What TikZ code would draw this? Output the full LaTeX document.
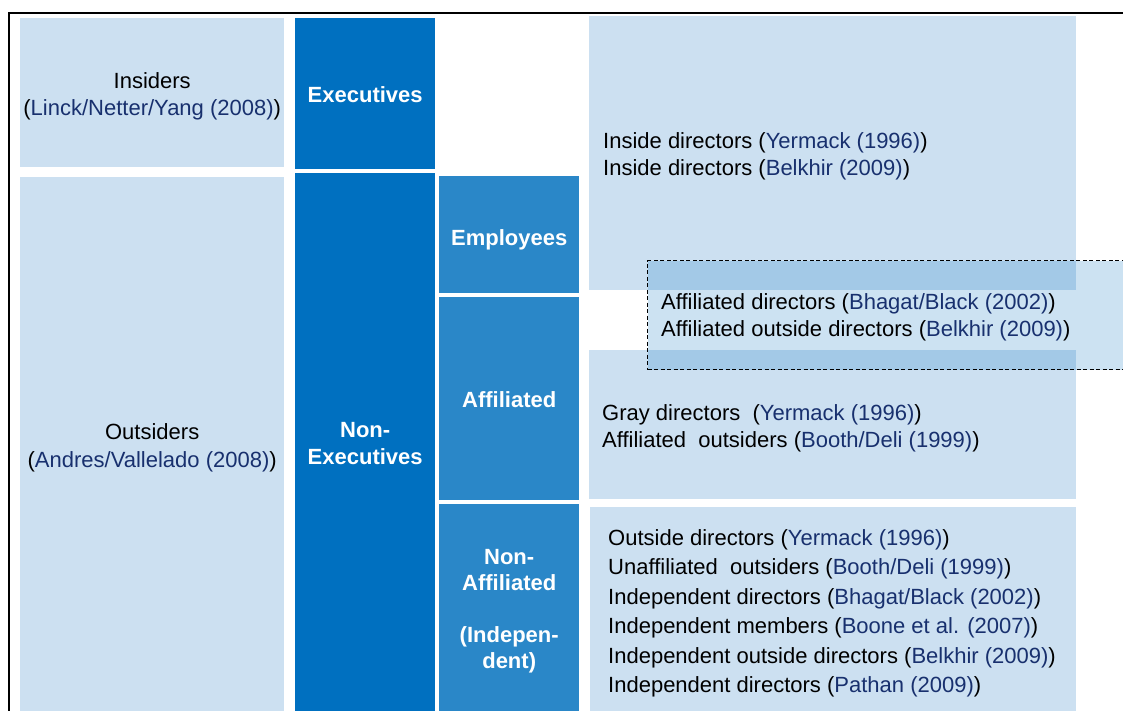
\documentclass[tikz,border=0pt]{standalone}
\usepackage{fontspec}
\setmainfont{Liberation Sans}
\definecolor{darkblue}{HTML}{0070C0}
\definecolor{midblue}{HTML}{2A87C8}
\definecolor{paleblue}{HTML}{CCE0F1}
\definecolor{citeblue}{HTML}{18306E}
\newcommand{\src}[1]{\textcolor{citeblue}{#1}}

\begin{document}
\begin{tikzpicture}[x=1pt,y=-1pt,
    every node/.style={font=\fontsize{22}{27}\selectfont, inner sep=0pt},
    cell/.style={anchor=north west},
    lite/.style={cell, fill=paleblue},
    dark/.style={cell, fill=darkblue},
    mid/.style={cell, fill=midblue},
    tag/.style={align=center},
    head/.style={align=center, text=white, font=\fontsize{22}{27}\selectfont\bfseries},
    list/.style={anchor=west, align=left},
    dashbox/.style={cell, draw=black, line width=1pt, dash pattern=on 4pt off 2.5pt,
      fill=darkblue, fill opacity=0.2}]
  \useasboundingbox (0,0) rectangle (1123,710);
  \clip (0,0) rectangle (1123,710);
  \draw[line width=2pt] (9,716) -- (9,13) -- (1126,13);

  % left column
  \node[lite, minimum width=264pt, minimum height=149pt] (insiders) at (20,18) {};
  \node[lite, minimum width=264pt, minimum height=537pt] (outsiders) at (20,177) {};
  \node[tag] (insiderstext) at ([yshift=-3.5pt]insiders.center)
    {Insiders\\(\src{Linck/Netter/Yang (2008)})};
  \node[tag, font=\fontsize{22}{28}\selectfont] (outsiderstext) at ([yshift=-2pt]outsiders.center)
    {Outsiders\\(\src{Andres/Vallelado (2008)})};

  % board members
  \node[dark, minimum width=140pt, minimum height=151pt] (exec) at (295,18) {};
  \node[dark, minimum width=140pt, minimum height=541pt] (nonexec) at (295,173) {};
  \node[mid, minimum width=140pt, minimum height=117pt] (employees) at (439,176) {};
  \node[mid, minimum width=140pt, minimum height=203pt] (affiliated) at (439,297) {};
  \node[mid, minimum width=140pt, minimum height=210pt] (nonaffil) at (439,504) {};
  \node[head] (exectext) at ([yshift=-1pt]exec.center) {Executives};
  \node[head] (nonexectext) at (nonexec.center) {Non-\\Executives};
  \node[head] (employeestext) at ([yshift=-5pt]employees.center) {Employees};
  \node[head] (affiliatedtext) at ([yshift=-1pt]affiliated.center) {Affiliated};
  \node[head, font=\fontsize{22}{26}\selectfont\bfseries] (nonaffiltext) at ([yshift=-2pt]nonaffil.center)
    {Non-\\Affiliated\\ \\(Indepen-\\dent)};

  % terms used in the literature
  \node[lite, minimum width=487pt, minimum height=274pt] (insidebox) at (589,16) {};
  \node[lite, minimum width=487pt, minimum height=149pt] (graybox) at (589,350) {};
  \node[lite, minimum width=486pt, minimum height=207pt] (indepbox) at (590,507) {};
  \node[dashbox, minimum width=490pt, minimum height=109pt] (affilbox) at (647,260) {};

  \node[list] (insidetext) at ([xshift=14pt, yshift=-3pt]insidebox.west)
    {Inside directors (\src{Yermack (1996)})\\
     Inside directors (\src{Belkhir (2009)})};
  \node[list] (affiltext) at ([xshift=14pt, yshift=-2pt]affilbox.west)
    {Affiliated directors (\src{Bhagat/Black (2002)})\\
     Affiliated outside directors (\src{Belkhir (2009)})};
  \node[list] (graytext) at ([xshift=13pt, yshift=-4pt]graybox.west)
    {Gray directors~ (\src{Yermack (1996)})\\
     Affiliated~ outsiders (\src{Booth/Deli (1999)})};
  \node[list, font=\fontsize{22}{29.5}\selectfont] (indeptext) at ([xshift=18pt, yshift=-2.5pt]indepbox.west)
    {Outside directors (\src{Yermack (1996)})\\
     Unaffiliated~ outsiders (\src{Booth/Deli (1999)})\\
     Independent directors (\src{Bhagat/Black (2002)})\\
     Independent members (\src{Boone et al. (2007)})\\
     Independent outside directors (\src{Belkhir (2009)})\\
     Independent directors (\src{Pathan (2009)})};
\end{tikzpicture}
\end{document}
